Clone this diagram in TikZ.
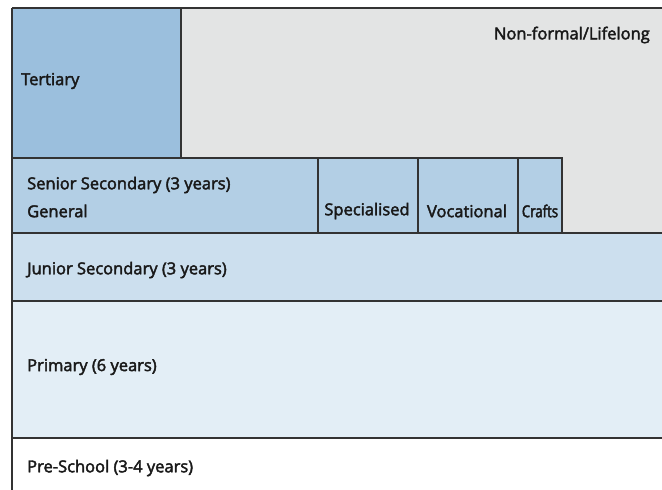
\documentclass[tikz,border=0pt]{standalone}
\usepackage{fontspec}
\setmainfont{Open Sans}[UprightFeatures={FakeBold=2.5}]
\begin{document}
\begin{tikzpicture}[x=1pt,y=-1pt,
  cell/.style={anchor=north west,inner sep=0pt,outer sep=0pt},
  lbl/.style={font=\fontsize{16.5}{18}\selectfont,text=black!90,inner sep=0pt},
  bline/.style={line width=1.1pt,draw=black!80}]
\useasboundingbox (0,0) rectangle (662,490);
\definecolor{tert}{HTML}{9BBFDD}
\definecolor{senior}{HTML}{B3CFE5}
\definecolor{junior}{HTML}{CCDFEE}
\definecolor{prim}{HTML}{E3EEF6}
\definecolor{nonf}{HTML}{E3E4E4}
% fills
\node[cell,fill=nonf,minimum width=481pt,minimum height=225pt] (nf) at (181,8) {};
\node[cell,fill=tert,minimum width=169pt,minimum height=150pt] (tert) at (12,8) {};
\node[cell,fill=senior,minimum width=306pt,minimum height=75pt] (gen) at (12,158) {};
\node[cell,fill=senior,minimum width=100pt,minimum height=75pt] (spec) at (318,158) {};
\node[cell,fill=senior,minimum width=100pt,minimum height=75pt] (voc) at (418,158) {};
\node[cell,fill=senior,minimum width=44pt,minimum height=75pt] (cra) at (518,158) {};
\node[cell,fill=junior,minimum width=650pt,minimum height=68pt] (jun) at (12,233) {};
\node[cell,fill=prim,minimum width=650pt,minimum height=137pt] (pri) at (12,301) {};
\node[cell,fill=white,minimum width=650pt,minimum height=52pt] (pre) at (12,438) {};
% lines
\draw[bline] (tert.north west) -- (nf.north east);
\draw[bline] (tert.north west) -- (pre.south west);
\draw[bline] (tert.north east) -- (tert.south east);
\draw[bline] (tert.south west) -- (spec.north west) -- (cra.north east) -- (cra.south east);
\draw[bline] (spec.north west) -- (spec.south west);
\draw[bline] (voc.north west) -- (voc.south west);
\draw[bline] (cra.north west) -- (cra.south west);
\draw[bline] (jun.north west) -- (jun.north east);
\draw[bline] (pri.north west) -- (pri.north east);
\draw[bline] (pre.north west) -- (pre.north east);
% labels
\node[lbl,anchor=west] (tl) at (21,81) {Tertiary};
\node[lbl,anchor=east] (nl) at (650,35) {Non-formal/Lifelong};
\node[lbl,anchor=west] (sl) at (27,185) {Senior Secondary (3 years)};
\node[lbl,anchor=west] (gl) at (27,211) {General};
\node[lbl] (spl) at (367,211) {Specialised};
\node[lbl] (vl) at (467,211) {Vocational};
\node[lbl] (cl) at (540,211) {\addfontfeatures{FakeStretch=0.8}Crafts};
\node[lbl,anchor=west] (jl) at (27,270) {Junior Secondary (3 years)};
\node[lbl,anchor=west] (pl) at (27,367) {Primary (6 years)};
\node[lbl,anchor=west] (psl) at (27,468) {Pre-School (3-4 years)};
\end{tikzpicture}
\end{document}
